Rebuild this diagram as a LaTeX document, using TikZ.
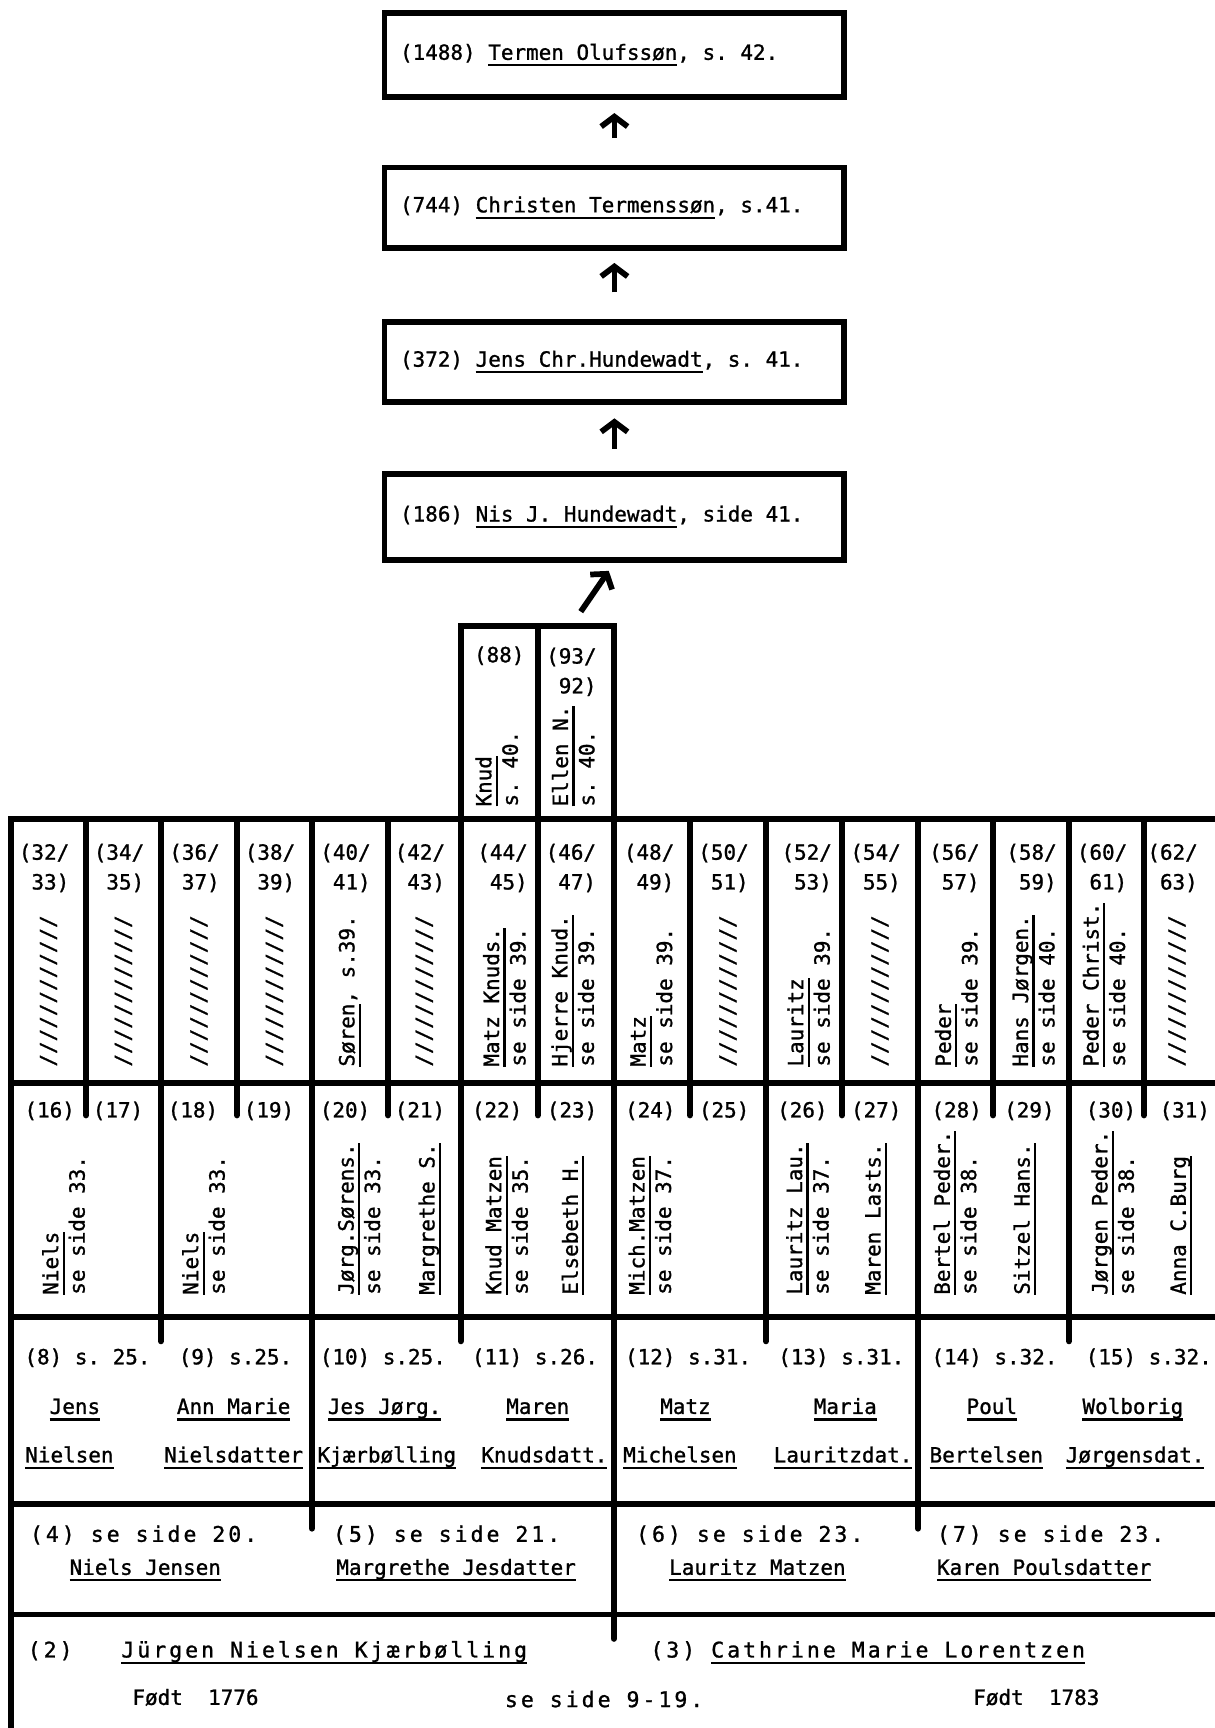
\documentclass[tikz,border=0pt]{standalone}
\usepackage{fontspec}
\setmainfont[FakeBold=1.1]{DejaVu Sans Mono}
\newfontfamily\widefam[LetterSpace=14,FakeBold=1.1]{DejaVu Sans Mono}
\usetikzlibrary{arrows.meta}
\newcommand\fixsp[1]{\frenchspacing\fontdimen2\font=#1\relax\fontdimen3\font=0pt\relax\fontdimen4\font=0pt\relax}
\newcommand\fs{\fontsize{19}{24}\selectfont\fixsp{11.44pt}}
\newcommand\hd{\fontsize{19}{27}\selectfont\fixsp{11.44pt}}
\newcommand\wfs{\widefam\fontsize{19.5}{24}\selectfont\fixsp{14.5pt}}
\newcommand\ul[1]{\leavevmode\setbox0=\hbox{#1}\rlap{\rule[-6pt]{\wd0}{2pt}}\box0}
\newcommand\slashes{////////////}
\newcommand\twol[2]{\begin{tabular}{@{}l@{}}#1\\#2\end{tabular}}
\newcommand\twor[2]{\begin{tabular}{@{}r@{}}#1\\#2\end{tabular}}
\newcommand\colA[5]{%
  \node[hdr] (hA#1) at (#2-4,761) {\twor{#3}{#4}};
  \node[rot] (tA#1) at (#2,968) {#5};}
\begin{document}
\begin{tikzpicture}[x=1pt,y=-1pt,
  grid/.style={line width=5.2pt, line cap=rect},
  tick/.style={line width=5.6pt, line cap=round},
  topbox/.style={draw, line width=5.2pt, minimum width=417pt,
                 inner xsep=14pt, inner ysep=0pt, font=\fs},
  arr/.style={line width=5.2pt, -{Straight Barb[length=9pt,width=24pt]}},
  rot/.style={rotate=90, anchor=west, inner sep=0pt, font=\fs},
  hdr/.style={anchor=north, inner sep=0pt, font=\hd},
  lbl/.style={anchor=base west, inner sep=0pt, font=\fs},
  nm/.style={anchor=base, inner sep=0pt, font=\fs},
  wlbl/.style={anchor=base west, inner sep=0pt, font=\wfs}]
\useasboundingbox (0,0) rectangle (1102,1568);

% --- top chain of boxes ---
\node[topbox, minimum height=76pt] (b1) at (557.5,50)
  {\makebox[389pt][l]{(1488) \ul{Termen Olufssøn}, s. 42.}};
\node[topbox, minimum height=73pt] (b2) at (557.5,188.5)
  {\makebox[389pt][l]{(744) \ul{Christen Termenssøn}, s.41.}};
\node[topbox, minimum height=73pt] (b3) at (557.5,328.5)
  {\makebox[389pt][l]{(372) \ul{Jens Chr.Hundewadt}, s. 41.}};
\node[topbox, minimum height=78pt] (b4) at (557.5,469)
  {\makebox[389pt][l]{(186) \ul{Nis J. Hundewadt}, side 41.}};

\draw[arr, shorten <=24pt, shorten >=12pt] (b2.north) -- (b1.south);
\draw[arr, shorten <=24pt, shorten >=11pt] (b3.north) -- (b2.south);
\draw[arr, shorten <=20pt, shorten >=12pt] (b4.north) -- (b3.south);
\coordinate (dtail) at (527,555);
\draw[arr, shorten >=9pt] (dtail) -- (b4.south);

% --- tower (88)/(93/92) ---
\draw[grid] (418,743) -- (418,568) -- (557,568) -- (557,743);
\draw[grid] (488,568) -- (488,743);
\node[nm, anchor=center] (h88) at (453,595) {(88)};
\node[hdr] (h93) at (518.5,583) {\twor{(93/}{92)}};
\node[rot] (t88) at (453,732) {\twol{\ul{Knud}}{s. 40.}};
\node[rot] (t93) at (522.5,732) {\twol{\ul{Ellen N.}}{s. 40.}};

% --- grid ---
\draw[grid] (10,1568) -- (10,743) -- (1102,743);
\foreach \y in {983,1195,1365,1465} \draw[grid] (10,\y) -- (1102,\y);
\foreach \x in {78,146,215,283,352,418,488,557,626,695,764,833,901,970,1038}
  \draw[grid] (\x,743) -- (\x,983);
\foreach \x in {78,215,352,488,626,764,901,1038} \draw[tick] (\x,983) -- (\x,1012);
\foreach \x in {146,283,418,557,695,833,970} \draw[grid] (\x,983) -- (\x,1195);
\foreach \x in {146,418,695,970} \draw[tick] (\x,1195) -- (\x,1217);
\foreach \x in {283,557,833} \draw[grid] (\x,1195) -- (\x,1365);
\foreach \x in {283,833} \draw[tick] (\x,1365) -- (\x,1387);
\draw[grid] (557,1365) -- (557,1465);
\draw[tick] (557,1465) -- (557,1487);

% --- row 32-63 ---
\colA{32}{44}{(32/}{33)}{\slashes}
\colA{34}{112}{(34/}{35)}{\slashes}
\colA{36}{180.5}{(36/}{37)}{\slashes}
\colA{38}{249}{(38/}{39)}{\slashes}
\colA{40}{317.5}{(40/}{41)}{\ul{Søren}, s.39.}
\colA{42}{385}{(42/}{43)}{\slashes}
\colA{44}{460}{(44/}{45)}{\twol{\ul{Matz Knuds.}}{se side 39.}}
\colA{46}{522}{(46/}{47)}{\twol{\ul{Hjerre Knud.}}{se side 39.}}
\colA{48}{593}{(48/}{49)}{\twol{\ul{Matz}}{se side 39.}}
\colA{50}{660.5}{(50/}{51)}{\slashes}
\colA{52}{736}{(52/}{53)}{\twol{\ul{Lauritz}}{se side 39.}}
\colA{54}{798.5}{(54/}{55)}{\slashes}
\colA{56}{870}{(56/}{57)}{\twol{\ul{Peder}}{se side 39.}}
\colA{58}{940}{(58/}{59)}{\twol{\ul{Hans Jørgen.}}{se side 40.}}
\colA{60}{1004}{(60/}{61)}{\twol{\ul{Peder Christ.}}{se side 40.}}
\colA{62}{1068}{(62/}{63)}{\slashes}

% --- row 16-31 ---
\node[lbl] (h16) at (22,1014) {(16)};  \node[lbl] (h17) at (84,1014) {(17)};
\node[lbl] (h18) at (152,1014) {(18)}; \node[lbl] (h19) at (221,1014) {(19)};
\node[lbl] (h20) at (290,1014) {(20)}; \node[lbl] (h21) at (358,1014) {(21)};
\node[lbl] (h22) at (428,1014) {(22)}; \node[lbl] (h23) at (496,1014) {(23)};
\node[lbl] (h24) at (567,1014) {(24)}; \node[lbl] (h25) at (634,1014) {(25)};
\node[lbl] (h26) at (705,1014) {(26)}; \node[lbl] (h27) at (772,1014) {(27)};
\node[lbl] (h28) at (845,1014) {(28)}; \node[lbl] (h29) at (911,1014) {(29)};
\node[lbl] (h30) at (985,1014) {(30)}; \node[lbl] (h31) at (1052,1014) {(31)};

\node[rot] (t16) at (60,1175) {\twol{\ul{Niels}}{se side 33.}};
\node[rot] (t18) at (187,1175) {\twol{\ul{Niels}}{se side 33.}};
\node[rot] (t20) at (328,1175) {\twol{\ul{Jørg.Sørens.}}{se side 33.}};
\node[rot] (t21) at (390,1175) {\ul{Margrethe S.}};
\node[rot] (t22) at (462,1175) {\twol{\ul{Knud Matzen}}{se side 35.}};
\node[rot] (t23) at (520,1175) {\ul{Elsebeth H.}};
\node[rot] (t24) at (592,1175) {\twol{\ul{Mich.Matzen}}{se side 37.}};
\node[rot] (t26) at (735,1175) {\twol{\ul{Lauritz Lau.}}{se side 37.}};
\node[rot] (t27) at (795,1175) {\ul{Maren Lasts.}};
\node[rot] (t28) at (869,1175) {\twol{\ul{Bertel Peder.}}{se side 38.}};
\node[rot] (t29) at (930,1175) {\ul{Sitzel Hans.}};
\node[rot] (t30) at (1012,1175) {\twol{\ul{Jørgen Peder.}}{se side 38.}};
\node[rot] (t31) at (1072,1175) {\ul{Anna C.Burg}};

% --- row 8-15 ---
\node[lbl] (h8) at (22,1238) {(8) s. 25.};
\node[lbl] (h9) at (162,1238) {(9) s.25.};
\node[lbl] (h10) at (290,1238) {(10) s.25.};
\node[lbl] (h11) at (428,1238) {(11) s.26.};
\node[lbl] (h12) at (567,1238) {(12) s.31.};
\node[lbl] (h13) at (706,1238) {(13) s.31.};
\node[lbl] (h14) at (845,1238) {(14) s.32.};
\node[lbl] (h15) at (985,1238) {(15) s.32.};

\node[nm] (f8) at (68,1283) {\ul{Jens}};        \node[nm] (l8) at (63,1327) {\ul{Nielsen}};
\node[nm] (f9) at (212,1283) {\ul{Ann Marie}};  \node[nm] (l9) at (212,1327) {\ul{Nielsdatter}};
\node[nm] (f10) at (349,1283) {\ul{Jes Jørg.}}; \node[nm] (l10) at (351,1327) {\ul{Kjærbølling}};
\node[nm] (f11) at (488,1283) {\ul{Maren}};     \node[nm] (l11) at (494,1327) {\ul{Knudsdatt.}};
\node[nm] (f12) at (622,1283) {\ul{Matz}};      \node[nm] (l12) at (617,1327) {\ul{Michelsen}};
\node[nm] (f13) at (767,1283) {\ul{Maria}};     \node[nm] (l13) at (765,1327) {\ul{Lauritzdat.}};
\node[nm] (f14) at (900,1283) {\ul{Poul}};      \node[nm] (l14) at (895,1327) {\ul{Bertelsen}};
\node[nm] (f15) at (1028,1283) {\ul{Wolborig}}; \node[nm] (l15) at (1030,1327) {\ul{Jørgensdat.}};

% --- row 4-7 ---
\node[wlbl] (h4) at (27,1399) {(4) se side 20.};
\node[lbl] (n4) at (63,1429) {\ul{Niels Jensen}};
\node[wlbl] (h5) at (302,1399) {(5) se side 21.};
\node[lbl] (n5) at (305,1429) {\ul{Margrethe Jesdatter}};
\node[wlbl] (h6) at (577,1399) {(6) se side 23.};
\node[lbl] (n6) at (607,1429) {\ul{Lauritz Matzen}};
\node[wlbl] (h7) at (850,1399) {(7) se side 23.};
\node[lbl] (n7) at (850,1429) {\ul{Karen Poulsdatter}};

% --- row 2-3 ---
\node[wlbl] (h2) at (25,1504) {(2)};
\node[wlbl] (n2) at (110,1504) {\ul{Jürgen Nielsen Kjærbølling}};
\node[wlbl] (n3) at (590,1504) {(3) \ul{Cathrine Marie Lorentzen}};
\node[lbl] (d2) at (120,1547) {Født~~1776};
\node[wlbl] (ss) at (458,1549) {se side 9-19.};
\node[lbl] (d3) at (883,1547) {Født~~1783};
\end{tikzpicture}
\end{document}
